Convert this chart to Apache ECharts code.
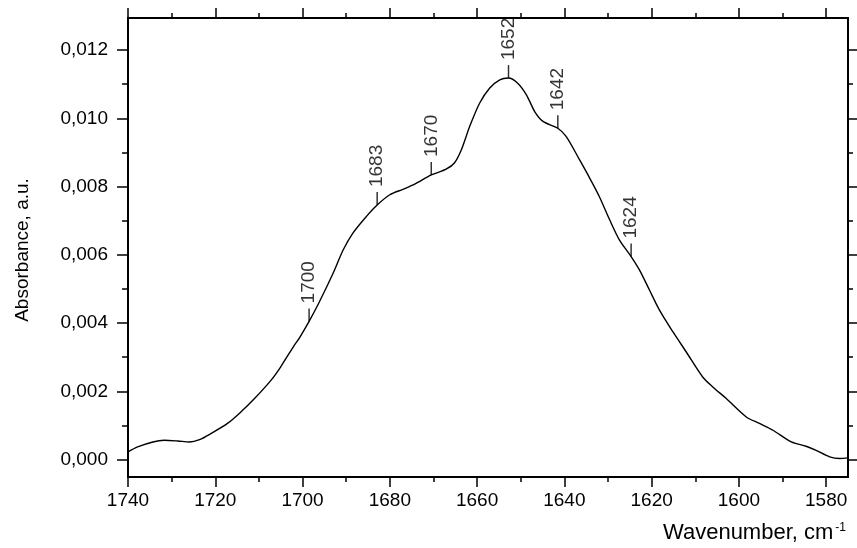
<!DOCTYPE html>
<html>
<head>
<meta charset="utf-8">
<script src="https://cdn.jsdelivr.net/npm/echarts@6/dist/echarts.min.js"></script>
<style>
html,body{margin:0;padding:0;background:#fff;}
#chart{width:857px;height:548px;}
</style>
</head>
<body>
<div id="chart"></div>
<script>
const wavenumber = [1740,1737.8,1734.3,1731.7,1728.6,1725.9,1723.6,1721,1717.2,1714.1,1711,1707.2,1705,1701.9,1700.7,1698.5,1696.3,1693,1690.7,1688.5,1685.4,1682.9,1680,1677,1674.3,1670.5,1667.1,1665.2,1663.6,1661.7,1659.4,1657.1,1654.8,1652.8,1650.7,1648.7,1646.8,1644.9,1641.5,1639.6,1636.5,1634.2,1632,1629.6,1627.4,1624.7,1622.8,1620.5,1618.2,1615.1,1612.1,1608.3,1606,1602.9,1598.3,1595.3,1592.2,1588,1584.6,1582.3,1579.2,1576.9,1575];
const absorbance = [0.000223,0.00037,0.000517,0.000566,0.000546,0.000517,0.000587,0.000763,0.00106,0.0014,0.00179,0.00233,0.00272,0.00335,0.00357,0.00405,0.00458,0.00546,0.00614,0.00663,0.00712,0.00746,0.00776,0.00792,0.00807,0.00834,0.00851,0.00869,0.00908,0.00976,0.01045,0.01089,0.01113,0.01118,0.01103,0.01069,0.0102,0.00991,0.00971,0.00947,0.00878,0.00825,0.00771,0.00702,0.00644,0.00595,0.00556,0.00497,0.00438,0.00374,0.00316,0.00242,0.00213,0.00179,0.00125,0.00106,0.00086,0.00052,0.00039,0.00027,0.00008,0.00003,0.00005];

const peakWn = [1698.5,1682.9,1670.5,1652.8,1641.5,1624.7];
const peakVal = [0.00405,0.00746,0.00834,0.01118,0.00971,0.00595];
const peakLabels = ['1700','1683','1670','1652','1642','1624'];

const xMajorTicks = [1740,1720,1700,1680,1660,1640,1620,1600,1580];
const xMinorTicks = [1730,1710,1690,1670,1650,1630,1610,1590];
const yMajorTicks = [0,0.002,0.004,0.006,0.008,0.010,0.012];
const yMinorTicks = [0.001,0.003,0.005,0.007,0.009,0.011];

const X_MIN = 1575, X_MAX = 1740;
const Y_MIN = -0.00051, Y_MAX = 0.01294;

const FONT = '"Liberation Sans", Arial, sans-serif';
const lineStyle = {color:'#000', width:2};

function xAxisDef(pos, ticks, len, labels){
  return {
    type:'value', position:pos, min:X_MIN, max:X_MAX, inverse:true,
    axisLine:{show:true, onZero:false, lineStyle:lineStyle},
    axisTick:{show:true, customValues:ticks, length:len, lineStyle:{color:'#000', width:1.5}},
    axisLabel:{show:labels, customValues:ticks, margin:14, color:'#000', fontSize:19, fontFamily:FONT,
      formatter:function(v){return String(v);}},
    splitLine:{show:false}
  };
}
function yAxisDef(pos, ticks, len, labels){
  return {
    type:'value', position:pos, min:Y_MIN, max:Y_MAX,
    axisLine:{show:true, onZero:false, lineStyle:lineStyle},
    axisTick:{show:true, customValues:ticks, length:len, lineStyle:{color:'#000', width:1.5}},
    axisLabel:{show:labels, customValues:ticks, margin:20, color:'#000', fontSize:19, fontFamily:FONT,
      formatter:function(v){return v.toFixed(3).replace('.', ',');}},
    splitLine:{show:false}
  };
}

const chart = echarts.init(document.getElementById('chart'), null, {renderer:'canvas'});
const lineData = wavenumber.map((w,i)=>[w, absorbance[i]]);
const peakData = peakWn.map((w,i)=>({value:[w, peakVal[i]], name:peakLabels[i]}));

chart.setOption({
  animation:false,
  backgroundColor:'#fff',
  grid:{left:128, right:9, top:18, bottom:71, containLabel:false},
  xAxis:[
    xAxisDef('bottom', xMajorTicks, 10, true),
    xAxisDef('bottom', xMinorTicks, 5, false),
    xAxisDef('top', xMajorTicks, 10, false),
    xAxisDef('top', xMinorTicks, 5, false)
  ],
  yAxis:[
    yAxisDef('left', yMajorTicks, 11, true),
    yAxisDef('left', yMinorTicks, 6, false),
    yAxisDef('right', yMajorTicks, 10, false),
    yAxisDef('right', yMinorTicks, 5, false)
  ],
  series:[
    {
      type:'line', xAxisIndex:0, yAxisIndex:0, data:lineData,
      smooth:0.3, showSymbol:false, symbol:'none',
      lineStyle:{color:'#000', width:1.4}, silent:true, z:3
    },
    {
      type:'scatter', xAxisIndex:0, yAxisIndex:0, data:peakData,
      symbol:'rect', symbolSize:[1.5,13], symbolOffset:[0,'-50%'],
      itemStyle:{color:'#000'}, silent:true, z:4,
      label:{show:true, formatter:'{b}', position:'top', distance:5, rotate:90,
        align:'left', verticalAlign:'middle', color:'#000', fontSize:19, fontFamily:FONT}
    }
  ],
  graphic:[
    {type:'text', x:23, y:250, rotation:Math.PI/2,
      style:{text:'Absorbance, a.u.', fill:'#000', font:'19px '+FONT, align:'center', verticalAlign:'middle'}},
    {type:'text', x:846, y:533,
      style:{text:'Wavenumber, cm{sup|-1}', fill:'#000', font:'22px '+FONT, align:'right', verticalAlign:'middle',
        rich:{sup:{fontSize:12, fontFamily:FONT, fill:'#000', verticalAlign:'top', padding:[0,0,8,2]}}}}
  ]
});
</script>
</body>
</html>
